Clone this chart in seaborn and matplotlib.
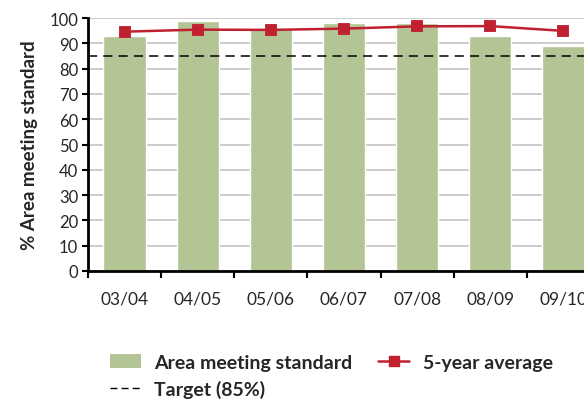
import numpy as np
import pandas as pd
import seaborn as sns
import matplotlib.pyplot as plt
from matplotlib.lines import Line2D
from matplotlib.patches import Patch

years = ["03/04", "04/05", "05/06", "06/07", "07/08", "08/09", "09/10"]
area_pct = [93, 99, 96, 98, 98, 93, 89]
five_year_avg = [94.6, 95.4, 95.3, 95.8, 96.7, 96.8, 94.9]
target = 85

BAR_COLOR = "#b3c495"
LINE_COLOR = "#c0202f"

sns.set_theme(style="white")
plt.rcParams["font.family"] = ["Lato", "DejaVu Sans"]

df = pd.DataFrame({"year": years, "area": area_pct, "avg": five_year_avg})

fig = plt.figure(figsize=(5.84, 4.02), dpi=100)
ax = fig.add_axes([88 / 584, 130 / 402, 512 / 584, 253 / 402])

ax.yaxis.grid(True, color="#c8c8c8", linewidth=1.3)
ax.set_axisbelow(True)

sns.barplot(data=df, x="year", y="area", order=years, color=BAR_COLOR,
            width=0.58, saturation=1, ax=ax, zorder=2)
ax.axhline(target, color="black", linestyle=(0, (6, 4)), linewidth=1.1, zorder=3)
sns.pointplot(data=df, x="year", y="avg", order=years, color=LINE_COLOR,
              markers="s", markersize=7, linewidth=1.8, ax=ax, zorder=4)

ax.set_ylim(0, 100)
ax.set_xlim(-0.5, 6.5)
ax.set_yticks(np.arange(0, 101, 10))
ax.set_xticks(np.arange(-0.5, 7, 1))
ax.set_xticklabels([])
ax.set_xticks(np.arange(7), years, minor=True)
ax.tick_params(axis="x", which="major", direction="out", length=5, width=1.5,
               color="black", bottom=True)
ax.tick_params(axis="x", which="minor", length=0, pad=14, labelsize=12.5)
ax.tick_params(axis="y", direction="out", length=4, width=1.5, color="black",
               left=True, labelsize=12, pad=3)

for side in ["top", "right"]:
    ax.spines[side].set_visible(False)
for side in ["left", "bottom"]:
    ax.spines[side].set_color("black")
    ax.spines[side].set_linewidth(2)

ax.set_xlabel("")
ax.set_ylabel("% Area meeting standard", fontsize=13.5, fontweight="bold", labelpad=8)

handles = [
    Patch(facecolor=BAR_COLOR, edgecolor="none"),
    Line2D([0], [0], color="black", linestyle=(0, (5, 3)), linewidth=1),
    Line2D([0], [0], color=LINE_COLOR, marker="s", markersize=7, linewidth=1.8),
]
labels = ["Area meeting standard", "Target (85%)", "5-year average"]
fig.legend(handles, labels, ncol=2, loc="upper left",
           bbox_to_anchor=(100 / 584, 1 - 345 / 402),
           frameon=False, borderpad=0, prop={"weight": "bold", "size": 14},
           handlelength=1.6, columnspacing=1.3, labelspacing=0.45,
           handletextpad=0.7)

fig.savefig("out.png", dpi=100)
